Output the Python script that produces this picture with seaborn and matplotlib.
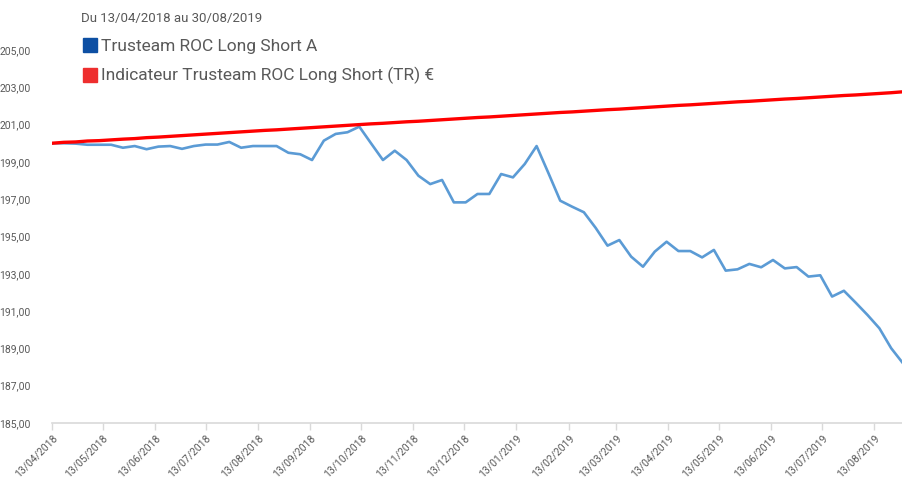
import numpy as np
import pandas as pd
import matplotlib
matplotlib.use("Agg")
import matplotlib.pyplot as plt
import matplotlib.dates as mdates
from matplotlib.lines import Line2D
from matplotlib.ticker import FuncFormatter
import seaborn as sb

# weekly values, every Friday from 13/04/2018 to 30/08/2019
fund_name = "Trusteam ROC Long Short A"
index_name = "Indicateur Trusteam ROC Long Short (TR) €"

fund_values = [200.00, 200.00, 199.98, 199.92, 199.92, 199.92, 199.76, 199.85, 199.68, 199.82,
               199.85, 199.70, 199.85, 199.93, 199.93, 200.07, 199.76, 199.85, 199.85, 199.85,
               199.49, 199.41, 199.10, 200.14, 200.50, 200.59, 200.89, 199.99, 199.10, 199.60,
               199.10, 198.26, 197.81, 198.03, 196.83, 196.83, 197.28, 197.28, 198.35, 198.17,
               198.89, 199.85, 198.40, 196.92, 196.60, 196.30, 195.46, 194.51, 194.81, 193.92,
               193.38, 194.19, 194.72, 194.22, 194.22, 193.88, 194.28, 193.17, 193.24, 193.53,
               193.35, 193.74, 193.29, 193.36, 192.85, 192.92, 191.78, 192.09, 191.45, 190.79,
               190.08, 189.01, 188.20]

index_values = [200.00, 200.05, 200.07, 200.12, 200.14, 200.18, 200.22, 200.25, 200.30, 200.33,
                200.37, 200.41, 200.45, 200.49, 200.53, 200.57, 200.61, 200.65, 200.69, 200.72,
                200.76, 200.80, 200.84, 200.88, 200.92, 200.96, 201.00, 201.04, 201.07, 201.11,
                201.15, 201.18, 201.22, 201.26, 201.30, 201.34, 201.38, 201.41, 201.45, 201.49,
                201.53, 201.57, 201.61, 201.65, 201.68, 201.72, 201.76, 201.80, 201.83, 201.87,
                201.91, 201.95, 201.99, 202.03, 202.06, 202.10, 202.14, 202.18, 202.22, 202.25,
                202.29, 202.33, 202.37, 202.40, 202.44, 202.48, 202.52, 202.56, 202.59, 202.63,
                202.67, 202.71, 202.76]

dates = pd.date_range("2018-04-13", "2019-08-30", freq="7D")
tick_dates = pd.date_range("2018-04-01", "2019-08-01", freq="MS") + pd.Timedelta(days=12)
y_ticks = [185, 187, 189, 191, 193, 195, 197, 199, 201, 203, 205]

df = pd.DataFrame({
    "Date": list(dates) * 2,
    "Valeur": fund_values + index_values,
    "Serie": [fund_name] * len(dates) + [index_name] * len(dates),
})

sb.set_style("white")
plt.rcParams["font.family"] = ["Roboto", "DejaVu Sans"]

grey = "#595959"
fig = plt.figure(figsize=(9.03, 4.8), dpi=100)
ax = fig.add_axes([52 / 903, 1 - 423 / 480, 1 - 52 / 903, (423 - 50) / 480])

sb.lineplot(data=df, x="Date", y="Valeur", hue="Serie",
            palette={fund_name: "#5B9BD5", index_name: "#FF0000"},
            hue_order=[fund_name, index_name], legend=False, ax=ax)
ax.lines[0].set_linewidth(1.9)
ax.lines[1].set_linewidth(2.4)
ax.lines[1].set_zorder(3)

ax.set_xlim(dates[0], dates[-1])
ax.set_ylim(185, 205)
ax.set_yticks(y_ticks)
ax.yaxis.set_major_formatter(FuncFormatter(lambda v, p: f"{v:.2f}".replace(".", ",")))
ax.set_xticks(tick_dates)
ax.xaxis.set_major_formatter(mdates.DateFormatter("%d/%m/%Y"))
plt.setp(ax.get_xticklabels(), rotation=45, ha="right", rotation_mode="anchor")

ax.set(xlabel=None, ylabel=None)
for s in ["top", "right", "left"]:
    ax.spines[s].set_visible(False)
ax.spines["bottom"].set_color("#D9D9D9")
ax.spines["bottom"].set_linewidth(1.2)
ax.tick_params(axis="x", bottom=True, length=5, width=1, color="#D9D9D9",
               labelsize=7.5, labelcolor=grey, pad=2)
ax.tick_params(axis="y", left=False, labelsize=7.5, labelcolor=grey, pad=12)

handles = [
    Line2D([], [], marker="s", linestyle="none", markersize=10,
           markerfacecolor="#0D4FA3", markeredgecolor="#0D4FA3", label=fund_name),
    Line2D([], [], marker="s", linestyle="none", markersize=10,
           markerfacecolor="#EE2E2E", markeredgecolor="#EE2E2E", label=index_name),
]
leg = fig.legend(handles=handles, loc="upper left", bbox_to_anchor=(74 / 903, 1 - 5 / 480),
                 frameon=False, fontsize=12.5, title="Du 13/04/2018 au 30/08/2019",
                 title_fontsize=9.5, alignment="left", handletextpad=0.15,
                 handlelength=1.0, labelspacing=0.78, borderaxespad=0)
for t in leg.get_texts():
    t.set_color(grey)
leg.get_title().set_color(grey)

fig.savefig("out.png", dpi=100)
